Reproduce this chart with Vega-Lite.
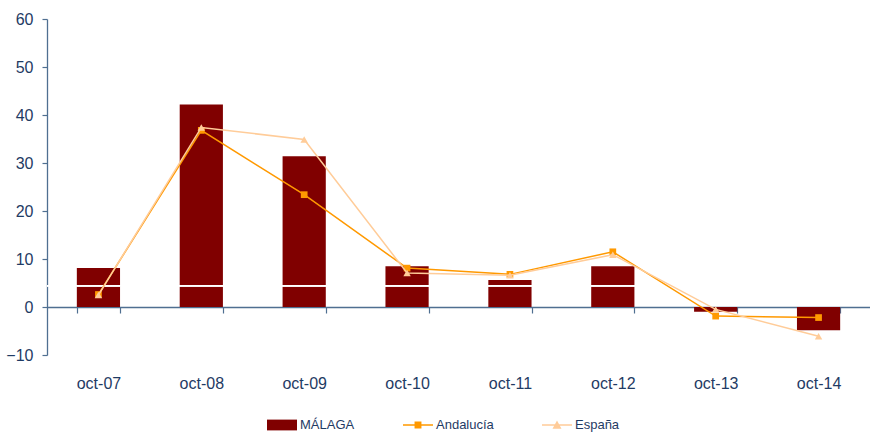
{
  "$schema": "https://vega.github.io/schema/vega-lite/v6.json",
  "autosize": "none",
  "width": 823,
  "height": 336,
  "padding": {"left": 47, "top": 19, "right": 0, "bottom": 79},
  "background": "white",
  "config": {
    "view": {"stroke": null},
    "font": "Liberation Sans",
    "axis": {
      "domainColor": "#4F6F91",
      "tickColor": "#4F6F91",
      "labelColor": "#1F3B64",
      "labelFont": "Liberation Sans",
      "labelFontSize": 16,
      "grid": false,
      "title": null
    }
  },
  "data": {
    "values": [
      {"mes": "oct-07", "serie": "MÁLAGA", "valor": 8.1},
      {"mes": "oct-08", "serie": "MÁLAGA", "valor": 42.2},
      {"mes": "oct-09", "serie": "MÁLAGA", "valor": 31.4},
      {"mes": "oct-10", "serie": "MÁLAGA", "valor": 8.5},
      {"mes": "oct-11", "serie": "MÁLAGA", "valor": 5.6},
      {"mes": "oct-12", "serie": "MÁLAGA", "valor": 8.5},
      {"mes": "oct-13", "serie": "MÁLAGA", "valor": -1.0},
      {"mes": "oct-14", "serie": "MÁLAGA", "valor": -4.85},
      {"mes": "oct-07", "serie": "Andalucía", "valor": 2.6},
      {"mes": "oct-08", "serie": "Andalucía", "valor": 36.8},
      {"mes": "oct-09", "serie": "Andalucía", "valor": 23.4},
      {"mes": "oct-10", "serie": "Andalucía", "valor": 8.1},
      {"mes": "oct-11", "serie": "Andalucía", "valor": 6.8},
      {"mes": "oct-12", "serie": "Andalucía", "valor": 11.5},
      {"mes": "oct-13", "serie": "Andalucía", "valor": -1.9},
      {"mes": "oct-14", "serie": "Andalucía", "valor": -2.2},
      {"mes": "oct-07", "serie": "España", "valor": 2.5},
      {"mes": "oct-08", "serie": "España", "valor": 37.4},
      {"mes": "oct-09", "serie": "España", "valor": 34.9},
      {"mes": "oct-10", "serie": "España", "valor": 7.1},
      {"mes": "oct-11", "serie": "España", "valor": 6.6},
      {"mes": "oct-12", "serie": "España", "valor": 10.9},
      {"mes": "oct-13", "serie": "España", "valor": -0.5},
      {"mes": "oct-14", "serie": "España", "valor": -6.1}
    ]
  },
  "encoding": {
    "x": {
      "field": "mes",
      "type": "nominal",
      "sort": null,
      "scale": {"paddingInner": 0.58, "paddingOuter": 0.29},
      "axis": {
        "labelAngle": 0,
        "offset": -48,
        "tickBand": "extent",
        "tickSize": 6,
        "tickWidth": 1.2,
        "domainWidth": 1.3,
        "labelPadding": 62
      }
    },
    "y": {
      "field": "valor",
      "type": "quantitative",
      "scale": {"domain": [-10, 60], "nice": false, "zero": false},
      "axis": {
        "values": [-10, 0, 10, 20, 30, 40, 50, 60],
        "tickSize": 5,
        "labelPadding": 9,
        "domainWidth": 1.3,
        "tickWidth": 1.2
      }
    },
    "color": {
      "field": "serie",
      "type": "nominal",
      "scale": {
        "domain": ["MÁLAGA", "Andalucía", "España"],
        "range": ["#800000", "#FF9900", "#FFCC99"]
      },
      "legend": {
        "title": null,
        "orient": "none",
        "direction": "horizontal",
        "legendX": 220,
        "legendY": 391,
        "symbolSize": 900,
        "labelFontSize": 13,
        "labelColor": "#1F3B64",
        "labelFont": "Liberation Sans",
        "labelOffset": 3,
        "columnPadding": 48,
        "encode": {
          "symbols": {
            "update": {
              "shape": {"signal": "datum.value === 'MÁLAGA' ? 'M-1,-0.36H1V0.36H-1Z' : (datum.value === 'Andalucía' ? 'M-1,-0.05H1V0.05H-1ZM-0.23,-0.23H0.23V0.23H-0.23Z' : 'M-1,-0.05H1V0.05H-1ZM0,-0.3L0.3,0.25H-0.3Z')"},
              "fill": {"scale": "color", "field": "value"},
              "fillOpacity": {"value": 1},
              "opacity": {"value": 1},
              "stroke": {"value": "transparent"},
              "strokeWidth": {"value": 0}
            }
          }
        }
      }
    }
  },
  "layer": [
    {
      "transform": [{"filter": "datum.serie === 'MÁLAGA'"}],
      "mark": {"type": "bar", "opacity": 1}
    },
    {
      "mark": {"type": "rule", "color": "white", "strokeWidth": 1},
      "encoding": {"y": {"datum": 4.45}, "x": null, "color": null}
    },
    {
      "transform": [{"filter": "datum.serie === 'Andalucía'"}],
      "mark": {"type": "line", "strokeWidth": 1.5, "point": {"filled": true, "shape": "square", "size": 45, "opacity": 1}}
    },
    {
      "transform": [{"filter": "datum.serie === 'España'"}],
      "mark": {"type": "line", "strokeWidth": 1.5, "point": {"filled": true, "shape": "triangle-up", "size": 55, "opacity": 1}}
    }
  ]
}
